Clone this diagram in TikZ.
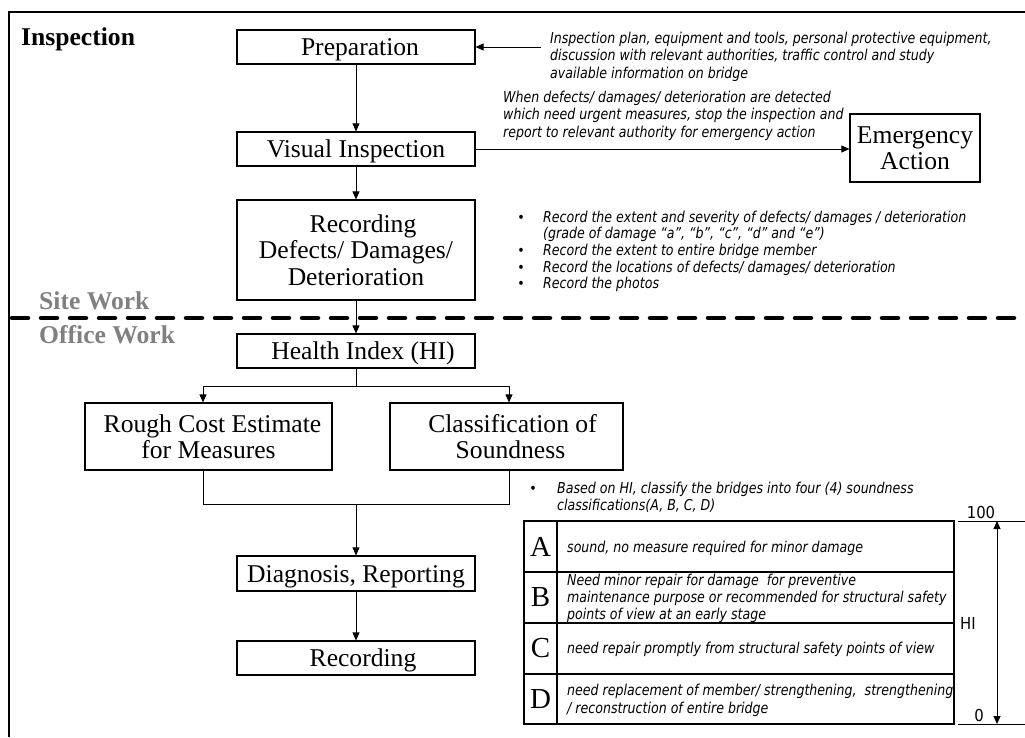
\documentclass[tikz,border=0pt]{standalone}
\usepackage{fontspec}
\setmainfont{Liberation Serif}
\newfontfamily\notefont[FakeStretch=0.84]{DejaVu Sans}
\newfontfamily\figfont[FakeStretch=0.9]{DejaVu Sans}
\usetikzlibrary{arrows.meta}
\definecolor{zonegray}{HTML}{808080}

\begin{document}
\begin{tikzpicture}[x=1pt,y=-1pt,
  box/.style={draw, line width=1.2pt, minimum width=238pt, minimum height=34pt,
    inner sep=0pt, font=\fontsize{25.6}{26.5}\selectfont, text height=17pt, text depth=0pt},
  mbox/.style={draw, line width=1.2pt, inner sep=0pt, align=center,
    font=\fontsize{25.6}{26.5}\selectfont},
  link/.style={line width=0.9pt},
  arr/.style={link, -{Triangle[length=8pt,width=7pt]}},
  note/.style={anchor=base west, inner sep=0pt, font=\notefont\itshape\fontsize{15}{17}\selectfont},
  bulletmark/.style={anchor=base, inner sep=0pt, font=\figfont\fontsize{14}{17}\selectfont},
  grade/.style={inner sep=0pt, font=\fontsize{29}{30}\selectfont},
  hiscale/.style={inner sep=0pt, font=\figfont\fontsize{16.5}{18}\selectfont},
  zone/.style={anchor=base west, inner sep=0pt, font=\bfseries\fontsize{25.6}{26}\selectfont, text=zonegray}]

\useasboundingbox (0,0) rectangle (1025,737);

% frame and site/office divider
\draw[line width=1.5pt] (1025,12) -- (9,12) -- (9,737);
\draw[line width=4.5pt, dash pattern=on 16pt off 13pt, line cap=round] (12,318) -- (1025,318);

\node[zone, text=black] (insp) at (21,45) {Inspection};
\node[zone] (site) at (39,309) {Site Work};
\node[zone] (office) at (39,343) {Office Work};

% main flow
\node[box] (prep) at (356,47) {\hspace*{8pt}Preparation};
\node[box] (vis) at (356,149) {Visual Inspection};
\node[mbox, minimum width=238pt, minimum height=100pt] (rec) at (356,250)
  {\hspace*{14pt}Recording\\Defects/ Damages/\\Deterioration};
\node[box] (hi) at (356,351) {\hspace*{14pt}Health Index (HI)};
\node[mbox, minimum width=247pt, minimum height=67pt] (cost) at (208.5,436.5)
  {\hspace*{8pt}Rough Cost Estimate\\for Measures};
\node[mbox, minimum width=233pt, minimum height=67pt] (cls) at (506.5,436.5)
  {\hspace*{12pt}Classification of\\\hspace*{8pt}Soundness};
\node[box, minimum height=35pt] (diag) at (356,573.5) {Diagnosis, Reporting};
\node[box] (recd) at (356,658) {\hspace*{14pt}Recording};
\node[mbox, minimum width=130pt, minimum height=68pt] (emer) at (915,148) {Emergency\\Action};

\coordinate (src) at (541,47);
\coordinate (brL) at (203,386);
\coordinate (brR) at (509,386);
\coordinate (jL) at (203,504);
\coordinate (jR) at (509,504);

\draw[arr] (src) -- (prep.east);
\draw[arr] (prep) -- (vis);
\draw[arr] (vis) -- (rec);
\draw[arr] (vis.east) -- (vis.east -| emer.west);
\draw[arr] (rec) -- (hi);
\draw[link] (hi.south) -- (hi.south |- brL);
\draw[link] (brL) -- (brR);
\draw[arr] (brL) -- (brL |- cost.north);
\draw[arr] (brR) -- (brR |- cls.north);
\draw[link] (cost.south -| jL) -- (jL) -- (jR) -- (cls.south -| jR);
\draw[arr] (jL -| diag.north) -- (diag.north);
\draw[arr] (diag) -- (recd);

% notes
\node[note] (n1) at (550,43) {Inspection plan, equipment and tools, personal protective equipment,};
\node[note] (n2) at (550,60.5) {discussion with relevant authorities, traffic control and study};
\node[note] (n3) at (550,78) {available information on bridge};

\node[note] (e1) at (503,102) {When defects/ damages/ deterioration are detected};
\node[note] (e2) at (503,119.5) {which need urgent measures, stop the inspection and};
\node[note] (e3) at (503,137) {report to relevant authority for emergency action};

\node[bulletmark] (b1) at (521,222) {•};
\node[note] (r1) at (543,222) {Record the extent and severity of defects/ damages / deterioration};
\node[note] (r1b) at (543,238.7) {(grade of damage “a”, “b”, “c”, “d” and “e”)};
\node[bulletmark] (b2) at (521,255.3) {•};
\node[note] (r2) at (543,255.3) {Record the extent to entire bridge member};
\node[bulletmark] (b3) at (521,272) {•};
\node[note] (r3) at (543,272) {Record the locations of defects/ damages/ deterioration};
\node[bulletmark] (b4) at (521,288.7) {•};
\node[note] (r4) at (543,288.7) {Record the photos};

\node[bulletmark] (b5) at (533,493) {•};
\node[note] (s1) at (557,493) {Based on HI, classify the bridges into four (4) soundness};
\node[note] (s2) at (557,510) {classifications(A, B, C, D)};

% soundness table
\draw[line width=1.2pt] (524,521) rectangle (954,724);
\draw[line width=1.2pt] (557,521) -- (557,724);
\draw[line width=1.2pt] (524,572) -- (954,572);
\draw[line width=1.2pt] (524,623) -- (954,623);
\draw[line width=1.2pt] (524,674) -- (954,674);

\node[grade] (gA) at (540.5,546.5) {A};
\node[grade] (gB) at (540.5,597.5) {B};
\node[grade] (gC) at (540.5,648.5) {C};
\node[grade] (gD) at (540.5,699.5) {D};

\node[note] (tA) at (567,552) {sound, no measure required for minor damage};
\node[note] (tB1) at (567,585) {Need minor repair for damage\ \ for preventive};
\node[note] (tB2) at (567,602) {maintenance purpose or recommended for structural safety};
\node[note] (tB3) at (567,619) {points of view at an early stage};
\node[note] (tC) at (567,653) {need repair promptly from structural safety points of view};
\node[note] (tD1) at (567,695) {need replacement of member/ strengthening,\ \ strengthening};
\node[note] (tD2) at (567,713) {/ reconstruction of entire bridge};

% HI scale
\coordinate (hiTop) at (997,521);
\coordinate (hiBot) at (997,724);
\draw[link] (958,521) -- (1025,521);
\draw[link] (958,724) -- (1025,724);
\draw[link, {Triangle[length=8pt,width=7pt]}-{Triangle[length=8pt,width=7pt]}] (hiTop) -- (hiBot);
\node[hiscale, anchor=base] (v100) at (981,518) {100};
\node[hiscale, anchor=west] (vHI) at (960,623) {HI};
\node[hiscale, anchor=base] (v0) at (979,721) {0};
\end{tikzpicture}
\end{document}
